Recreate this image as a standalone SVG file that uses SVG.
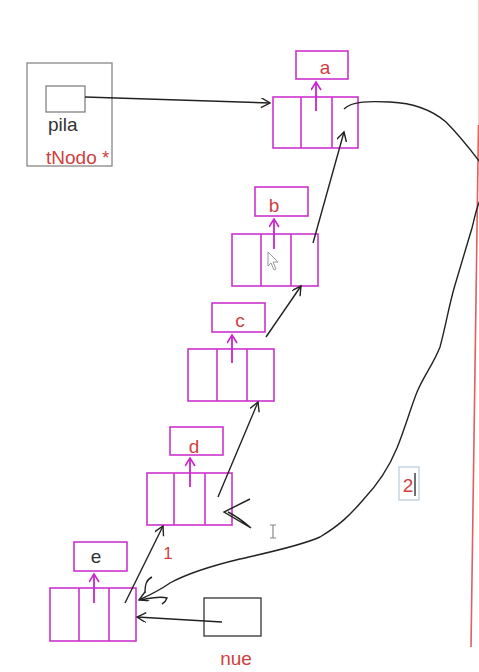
<svg xmlns="http://www.w3.org/2000/svg" width="479" height="672" viewBox="0 0 479 672">
<defs>
<marker id="ah" markerWidth="12" markerHeight="12" refX="10" refY="5" orient="auto" markerUnits="userSpaceOnUse">
<path d="M1,0 L10,5 L1,10" fill="none" stroke="#222" stroke-width="1.4"/>
</marker>
<marker id="mh" markerWidth="12" markerHeight="12" refX="9" refY="5" orient="auto" markerUnits="userSpaceOnUse">
<path d="M1,0 L9,5 L1,10" fill="none" stroke="#cc22cc" stroke-width="1.6"/>
</marker>
<style>
.node rect, .node line{fill:none;stroke:#cc33cc;stroke-width:1.6}
.node .up{stroke:#cc22cc;stroke-width:1.8}
.lbl{font-family:"Liberation Sans",Arial,sans-serif;font-size:19px;fill:#d04040;text-anchor:middle}
.blk{font-family:"Liberation Sans",Arial,sans-serif;font-size:19px;fill:#333}
.con{fill:none;stroke:#222;stroke-width:1.4}
</style>
</defs>
<rect width="479" height="672" fill="#fff"/>
<!-- right red line -->
<line x1="478.5" y1="125" x2="471" y2="647" stroke="#e06060" stroke-width="1.6"/>
<line x1="478.5" y1="0" x2="478.5" y2="125" stroke="#f4cccc" stroke-width="1"/>

<g id="pila">
<rect x="27" y="63" width="85" height="103" fill="none" stroke="#888" stroke-width="1.3"/>
<rect x="46" y="86" width="39" height="26" fill="none" stroke="#777" stroke-width="1.2"/>
<text class="blk" x="48" y="131">pila</text>
<text class="lbl" x="46" y="164" style="text-anchor:start">tNodo *</text>
</g>

<g id="node-a" class="node">
<rect x="296" y="51" width="52" height="28"/>
<text class="lbl" x="325" y="74">a</text>
<rect x="273" y="97" width="85" height="51"/>
<line x1="301" y1="97" x2="301" y2="148"/>
<line x1="332" y1="97" x2="332" y2="148"/>
<line class="up" x1="316" y1="111" x2="316" y2="82" marker-end="url(#mh)"/>
</g>

<g id="node-b" class="node">
<rect x="255" y="187" width="53" height="29"/>
<text class="lbl" x="274" y="212">b</text>
<rect x="232" y="234" width="86" height="52"/>
<line x1="261" y1="234" x2="261" y2="286"/>
<line x1="291" y1="234" x2="291" y2="286"/>
<line class="up" x1="274" y1="249" x2="274" y2="219" marker-end="url(#mh)"/>
</g>

<g id="node-c" class="node">
<rect x="212" y="303" width="53" height="29"/>
<text class="lbl" x="240" y="327">c</text>
<rect x="188" y="349" width="86" height="52"/>
<line x1="217" y1="349" x2="217" y2="401"/>
<line x1="247" y1="349" x2="247" y2="401"/>
<line class="up" x1="232" y1="363" x2="232" y2="335" marker-end="url(#mh)"/>
</g>

<g id="node-d" class="node">
<rect x="170" y="427" width="53" height="28"/>
<text class="lbl" x="194" y="453">d</text>
<rect x="147" y="473" width="85" height="52"/>
<line x1="174" y1="473" x2="174" y2="525"/>
<line x1="205" y1="473" x2="205" y2="525"/>
<line class="up" x1="190" y1="487" x2="190" y2="458" marker-end="url(#mh)"/>
</g>

<g id="node-e" class="node">
<rect x="74" y="542" width="53" height="29"/>
<text class="blk" x="96" y="563" style="text-anchor:middle">e</text>
<rect x="50" y="588" width="86" height="53"/>
<line x1="79" y1="588" x2="79" y2="641"/>
<line x1="109" y1="588" x2="109" y2="641"/>
<line class="up" x1="94" y1="603" x2="94" y2="574" marker-end="url(#mh)"/>
</g>

<g id="nue">
<rect x="204" y="598" width="57" height="38" fill="none" stroke="#333" stroke-width="1.3"/>
<text class="lbl" x="236" y="665">nue</text>
</g>

<g id="label-2">
<rect x="399" y="467" width="20" height="33" fill="none" stroke="#b8cad8" stroke-width="1.2"/>
<text class="lbl" x="408" y="492">2</text>
<line x1="415" y1="473" x2="415" y2="496" stroke="#111" stroke-width="1.2"/>
</g>

<g id="connectors">
<path class="con" d="M85,97 L270,103" marker-end="url(#ah)"/>
<path class="con" d="M313,243 L344,132" marker-end="url(#ah)"/>
<path class="con" d="M266,337 L301,286" marker-end="url(#ah)"/>
<path class="con" d="M218,497 L258,402" marker-end="url(#ah)"/>
<path class="con" d="M125,603 L163,526" marker-end="url(#ah)"/>
<path class="con" d="M222,622 L137,617" marker-end="url(#ah)"/>
<path class="con" d="M344,109 C352,101 370,101 390,102 C412,103 432,110 446,122 C458,134 468,146 486,170 L486,190 C478,200 476,212 472,228 C467,245 462,262 455,285 C449,305 446,325 440,347 C433,365 424,375 417,392 C410,410 405,428 397,448 C390,465 380,482 363,500 C350,515 340,525 320,537 C300,546 270,552 240,559 C215,565 190,572 170,583 C160,590 150,595 139,600" marker-end="url(#ah)"/>
<path class="con" d="M145,593 C145,585 146,580 152,577"/>
<path class="con" d="M141,600 C150,598 160,596 167,598 C166,601 164,603 162,604"/>
<path class="con" d="M250,499 L224,512 L251,528 C244,522 236,516 228,512"/>
</g>

<g id="cursors">
<path d="M268,252 L268,266 L271,263 L274,270 L276,269 L273,262 L278,262 Z" fill="#fff" stroke="#999" stroke-width="1"/>
<path d="M270,525 L276,525 M273,525 L273,538 M270,538 L276,538" fill="none" stroke="#888" stroke-width="1.2"/>
</g>
<text class="lbl" x="168" y="559" style="font-size:17px">1</text>
</svg>
